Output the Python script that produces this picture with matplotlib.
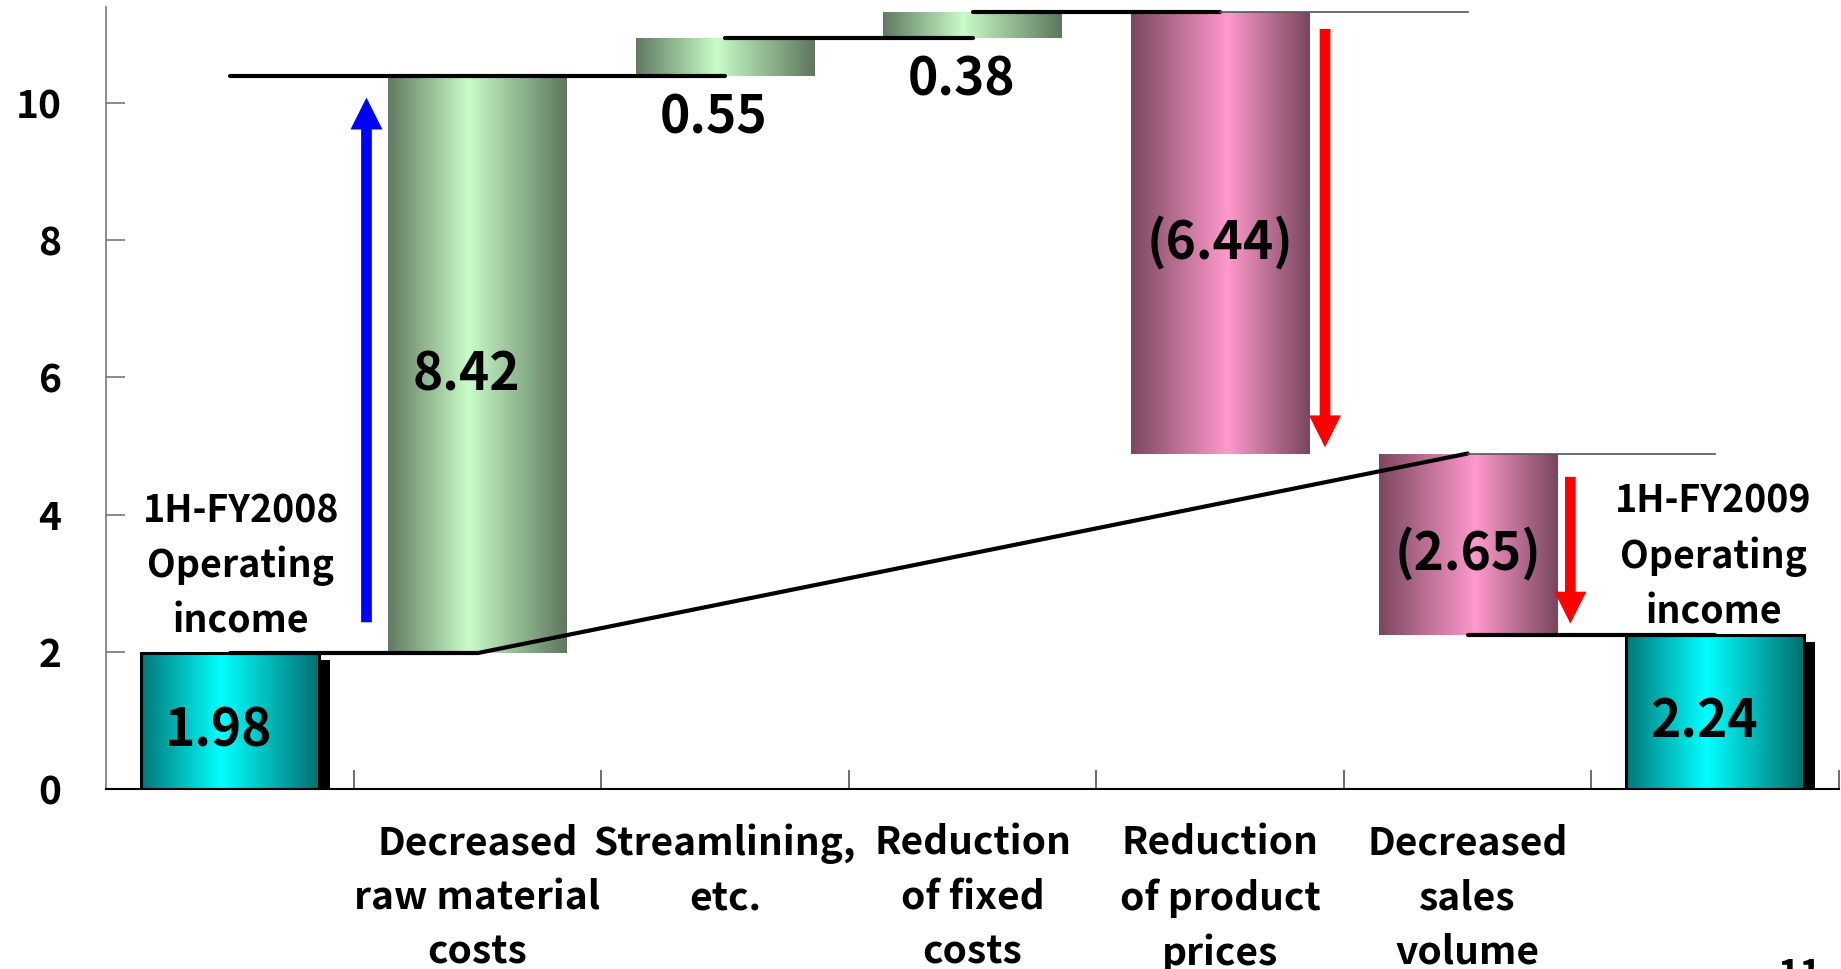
import numpy as np
import matplotlib
matplotlib.use("Agg")
import matplotlib.pyplot as plt

plt.rcParams['font.family'] = ['Noto Sans CJK JP', 'DejaVu Sans']

# data
categories = ['', 'Decreased\nraw material\ncosts', 'Streamlining,\netc.',
              'Reduction\nof fixed\ncosts', 'Reduction\nof product\nprices',
              'Decreased\nsales\nvolume', '']
start_value = 1.98
changes = [8.42, 0.55, 0.38, -6.44, -2.65]
end_value = 2.24
value_labels = ['1.98', '8.42', '0.55', '0.38', '(6.44)', '(2.65)', '2.24']
start_text = '1H-FY2008\nOperating\nincome'
end_text = '1H-FY2009\nOperating\nincome'
yticks = [0, 2, 4, 6, 8, 10]

levels = start_value + np.cumsum(changes)
prev = np.concatenate([[start_value], levels[:-1]])
bottoms = [0] + list(np.minimum(prev, levels)) + [0]
heights = [start_value] + list(np.abs(changes)) + [end_value]
x = np.arange(len(categories))

# gradients (dark edge -> bright -> dark edge)
def gradient(dark, bright, peak, dark2=None):
    if dark2 is None:
        dark2 = dark
    t = np.linspace(0, 1, 200)
    img = np.zeros((1, len(t), 3))
    for i, tt in enumerate(t):
        if tt < peak:
            f = tt / peak
            c0 = np.array(dark)
        else:
            f = (1 - tt) / (1 - peak)
            c0 = np.array(dark2)
        img[0, i] = c0 + (np.array(bright) - c0) * f
    return img / 255.0

cyan = gradient((0, 120, 120), (0, 255, 255), 0.45, (0, 110, 110))
green = gradient((98, 122, 98), (200, 252, 200), 0.45, (94, 118, 94))
pink = gradient((122, 72, 96), (255, 153, 204), 0.54, (120, 70, 94))
fills = [cyan, green, green, green, pink, pink, cyan]

fig = plt.figure(figsize=(18.41, 9.69), dpi=100)
ax = fig.add_axes([0.0576, 0.1858, 0.9413, 0.807])

w = 0.72
# shadows of the total bars
for i in [0, len(x) - 1]:
    ax.bar(x[i] + 0.045, heights[i] - 0.10, width=w, bottom=bottoms[i],
           color='black', zorder=1)

bars = ax.bar(x, heights, width=w, bottom=bottoms, color='none', zorder=3)
for i, b in enumerate(bars):
    x0, y0 = b.get_x(), b.get_y()
    im = ax.imshow(fills[i], extent=(x0, x0 + b.get_width(), y0, y0 + b.get_height()),
                   aspect='auto', interpolation='bilinear', zorder=2)
    im.set_clip_path(b)
    if i in (0, len(x) - 1):
        b.set_edgecolor('black')
        b.set_linewidth(2.2)

# connector lines
thick = dict(color='black', lw=3.0, solid_capstyle='round', zorder=4)
thin = dict(color='#555555', lw=1.2, zorder=4)
ax.plot([0, 1], [start_value, start_value], **thick)
ax.plot([1, 5], [start_value, levels[3]], **thick)
ax.plot([0, 2], [levels[0], levels[0]], **thick)
ax.plot([2, 3], [levels[1], levels[1]], **thick)
ax.plot([3, 4], [levels[2], levels[2]], **thick)
ax.plot([4, 5], [levels[2], levels[2]], **thin)
ax.plot([5, 6], [levels[3], levels[3]], **thin)
ax.plot([5, 6], [levels[4], levels[4]], **thick)

# arrows
arrow = 'simple,head_length=2.3,head_width=2.3,tail_width=0.77'
def draw_arrow(xa, y_from, y_to, col):
    ax.annotate('', xy=(xa, y_to), xytext=(xa, y_from),
                arrowprops=dict(arrowstyle=arrow, mutation_scale=10, lw=0,
                                color=col, shrinkA=0, shrinkB=0), zorder=5)

draw_arrow(1 - 0.448, start_value + 0.45, levels[0] - 0.32, 'blue')
draw_arrow(4 + 0.424, levels[2] - 0.25, levels[3] + 0.09, 'red')
draw_arrow(5 + 0.415, levels[3] - 0.34, levels[4] + 0.17, 'red')

# value labels
for i, b in enumerate(bars):
    h = b.get_height()
    if h < 1:
        ty = b.get_y() - 0.62
    else:
        ty = b.get_y() + h / 2 - 0.15
    dx = 0 if value_labels[i].startswith('(') else -0.045
    ax.text(x[i] + dx, ty, value_labels[i], ha='center', va='center',
            fontsize=37, fontweight='bold', zorder=6)

ax.text(0.045, 3.25, start_text, ha='center', va='center', fontsize=27,
        fontweight='bold', linespacing=1.5, zorder=6)
ax.text(5.993, 3.39, end_text, ha='center', va='center', fontsize=27,
        fontweight='bold', linespacing=1.5, zorder=6)

# axes
ax.set_xlim(-0.5, len(x) - 0.5)
ax.set_ylim(0, 11.4)
ax.set_yticks(yticks)
ax.set_yticklabels([str(v) for v in yticks], fontsize=28, fontweight='bold')
ax.tick_params(axis='y', direction='in', length=14, width=1.2, color='#777777', pad=32)
ax.set_xticks(np.append(x[:-1] + 0.5, len(x) - 0.5))
ax.set_xticklabels([])
ax.set_xticks(x, minor=True)
ax.set_xticklabels(categories, minor=True, fontsize=28, fontweight='bold')
ax.tick_params(axis='x', which='major', direction='in', length=14, width=1.2, color='#555555')
ax.tick_params(axis='x', which='minor', length=0, pad=25)
for lbl in ax.get_xticklabels(minor=True):
    lbl.set_linespacing(1.5)

for s in ['top', 'right']:
    ax.spines[s].set_visible(False)
ax.spines['left'].set_color('#777777')
ax.spines['left'].set_linewidth(1.2)
ax.spines['bottom'].set_color('black')
ax.spines['bottom'].set_linewidth(1.5)

fig.text(1800 / 1841, 1 - 956 / 969, '11', ha='center', va='top',
         fontsize=27, fontweight='bold')

fig.savefig('out.png', dpi=100)
